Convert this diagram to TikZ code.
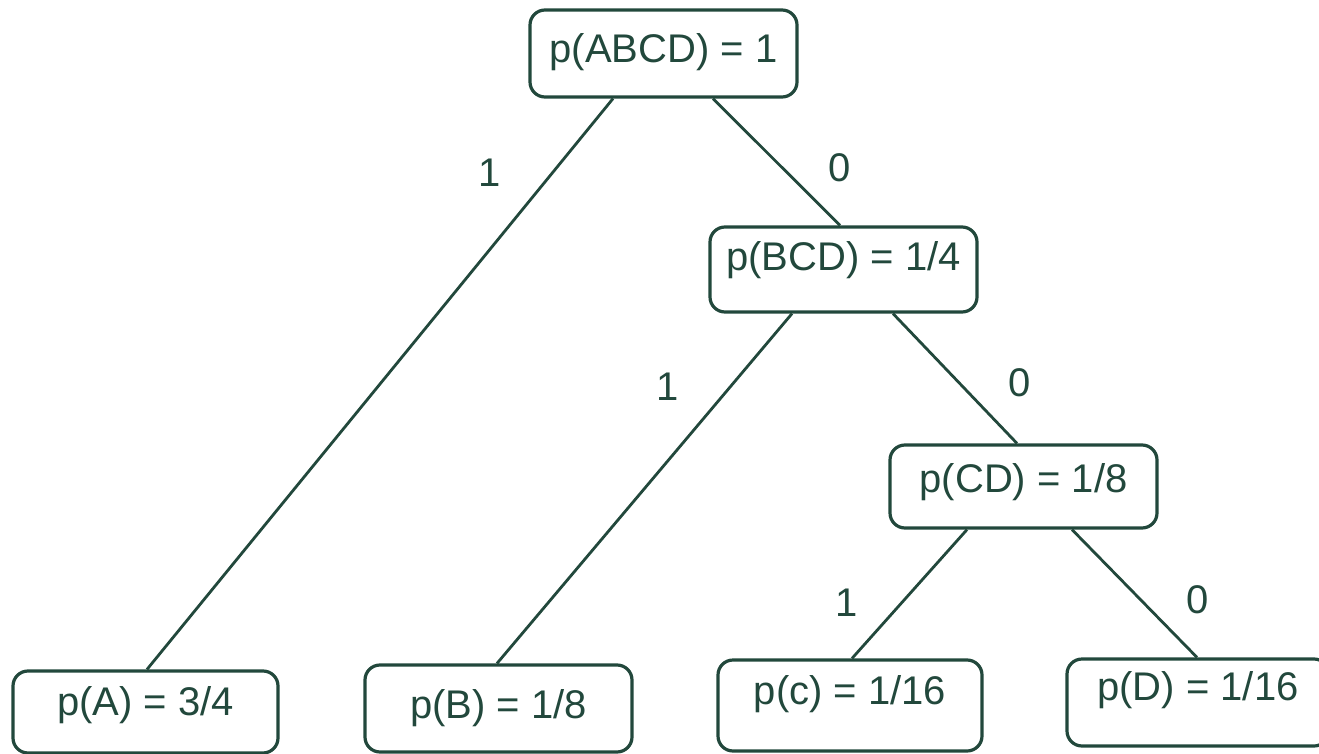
\documentclass[tikz,border=0pt]{standalone}
\usepackage{fontspec}
\setmainfont{Liberation Sans}
\definecolor{ink}{RGB}{34,72,60}
\begin{document}
\begin{tikzpicture}[x=1pt,y=-1pt,
  prob/.style={draw=ink, line width=3.2pt, rounded corners=15pt, inner sep=0pt,
    anchor=base, text=ink, font=\fontsize{40}{48}\selectfont},
  bit/.style={text=ink, font=\fontsize{40}{48}\selectfont, inner sep=0pt},
  link/.style={draw=ink, line width=2.8pt}]
\useasboundingbox (0,0) rectangle (1319,754);
\node[prob, minimum width=267pt, text height=53pt, text depth=34pt] (root) at (663.5,63) {p(ABCD) = 1};
\node[prob, minimum width=267pt, text height=43pt, text depth=42pt] (bcd) at (843.5,270) {p(BCD) = 1/4};
\node[prob, minimum width=267pt, text height=47pt, text depth=36pt] (cd) at (1023.5,492) {p(CD) = 1/8};
\node[prob, minimum width=265pt, text height=44pt, text depth=38pt] (a) at (145.5,715) {p(A) = 3/4};
\node[prob, minimum width=267pt, text height=53pt, text depth=34pt] (b) at (498.5,718) {p(B) = 1/8};
\node[prob, minimum width=264pt, text height=44pt, text depth=47pt] (c) at (850,704) {p(c) = 1/16};
\node[prob, minimum width=262pt, text height=41pt, text depth=46pt] (d) at (1198,700) {p(D) = 1/16};
\draw[link] ([xshift=-50.5pt]root.south) -- ([xshift=1.5pt]a.north);
\draw[link] ([xshift=49.5pt]root.south) -- ([xshift=-3.5pt]bcd.north);
\draw[link] ([xshift=-51.5pt]bcd.south) -- ([xshift=-1.5pt]b.north);
\draw[link] ([xshift=49.5pt]bcd.south) -- ([xshift=-6.5pt]cd.north);
\draw[link] ([xshift=-56.5pt]cd.south) -- ([xshift=2pt]c.north);
\draw[link] ([xshift=48.5pt]cd.south) -- ([xshift=-1pt]d.north);
\node[bit] (l1) at (490,173) {1};
\node[bit] (l2) at (840,168) {0};
\node[bit] (l3) at (668,387) {1};
\node[bit] (l4) at (1020,383) {0};
\node[bit] (l5) at (847,603) {1};
\node[bit] (l6) at (1198,600) {0};
\end{tikzpicture}
\end{document}
